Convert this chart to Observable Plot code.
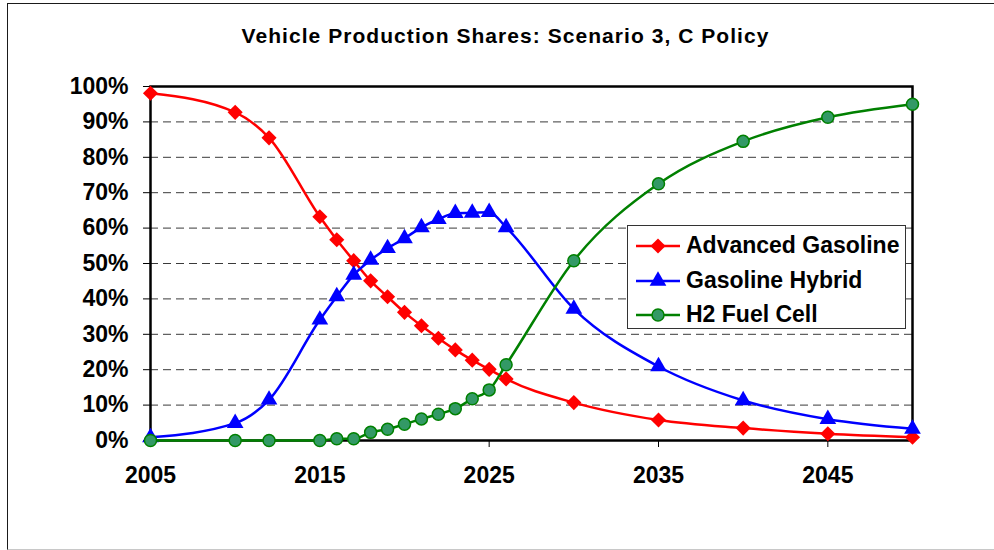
<!DOCTYPE html>
<html><head><meta charset="utf-8">
<script src="https://cdn.jsdelivr.net/npm/d3@7"></script>
<script src="https://cdn.jsdelivr.net/npm/@observablehq/plot@0.6"></script>
<style>
body{margin:0;background:#fff;font-family:"Liberation Sans",Arial,sans-serif;}
#wrap{position:relative;width:994px;height:550px;overflow:hidden;background:#fff;}
#border{position:absolute;left:7px;top:3px;width:1000px;height:545px;border:1px solid #1a1a1a;border-bottom-color:#c8c8c8;pointer-events:none;}
#legend{position:absolute;left:627px;top:225px;width:279px;height:104px;box-sizing:border-box;border:1px solid #333;background:#fff;}
.row{position:absolute;left:0;height:34px;width:100%;}
.row svg{position:absolute;left:0;top:0;}
.row span{position:absolute;left:58px;top:50%;transform:translateY(-52%);font:bold 23px "Liberation Sans",Arial,sans-serif;color:#000;white-space:nowrap;}
.chart-title text{letter-spacing:1.05px;}
</style>
</head><body>
<div id="wrap"><div id="chart"></div><div id="legend"></div><div id="border"></div></div>
<script>
const title = "Vehicle Production Shares: Scenario 3, C Policy";
const years = [2005, 2010, 2012, 2015, 2016, 2017, 2018, 2019, 2020, 2021, 2022, 2023, 2024, 2025, 2026, 2030, 2035, 2040, 2045, 2050];
const advancedGasoline = [98.1, 92.7, 85.5, 63.2, 56.7, 50.8, 45.1, 40.6, 36.2, 32.4, 28.9, 25.6, 22.7, 20.1, 17.4, 10.7, 5.8, 3.5, 1.9, 0.9];
const gasolineHybrid = [0.9, 4.9, 11.5, 34.1, 40.7, 46.8, 51.0, 54.3, 57.1, 60.2, 62.5, 64.2, 64.3, 64.5, 60.2, 37.2, 20.9, 11.3, 6.0, 3.3];
const h2FuelCell = [0, 0, 0, 0, 0.5, 0.5, 2.3, 3.2, 4.6, 6.1, 7.4, 9.0, 11.8, 14.3, 21.4, 50.8, 72.5, 84.5, 91.3, 95.0];
const seriesNames = ["Advanced Gasoline", "Gasoline Hybrid", "H2 Fuel Cell"];
const xTicks = [2005, 2015, 2025, 2035, 2045];
const yTicks = [0, 10, 20, 30, 40, 50, 60, 70, 80, 90, 100];
const gridTicks = [10, 20, 30, 40, 50, 60, 70, 80, 90];

const seriesStyle = [
  {line: "#ff0000", fill: "#ff0000", stroke: "none", symbol: "diamond2", r: 6.8},
  {line: "#0000ff", fill: "#0000ff", stroke: "none", symbol: "triangle", r: 6.2},
  {line: "#008000", fill: "#339966", stroke: "#008000", symbol: "circle", r: 6}
];
const seriesValues = [advancedGasoline, gasolineHybrid, h2FuelCell];
const tables = seriesValues.map((vals, i) => years.map((yr, j) => ({year: yr, value: vals[j], series: seriesNames[i]})));

const marks = [
  Plot.gridY(gridTicks, {stroke: "#3a3a3a", strokeOpacity: 1, strokeWidth: 1, strokeDasharray: "8,5"}),
  Plot.frame({stroke: "#000", strokeWidth: 2.5}),
  Plot.axisY(yTicks, {tickSize: 7, tickPadding: 15, tickFormat: d => d + "%", fontSize: 23, fontWeight: "bold", label: null, stroke: "#000"}),
  Plot.axisX(xTicks, {tickSize: 7, tickPadding: 19, tickFormat: d => String(d), fontSize: 23, fontWeight: "bold", label: null, stroke: "#000"}),
  Plot.text([title], {text: d => d, frameAnchor: "top", dx: -26, dy: -50, lineAnchor: "middle", fontSize: 21, fontWeight: "bold", fill: "#000", className: "chart-title"})
];
tables.forEach((t, i) => {
  const s = seriesStyle[i];
  marks.push(Plot.line(t, {x: "year", y: "value", stroke: s.line, strokeWidth: 2.5, curve: "monotone-x"}));
  marks.push(Plot.dot(t, {x: "year", y: "value", symbol: () => s.symbol, fill: s.fill, stroke: s.stroke, strokeWidth: 1.5, r: s.r}));
});

const chart = Plot.plot({
  width: 994, height: 550,
  marginLeft: 150, marginRight: 82, marginTop: 86, marginBottom: 110,
  style: {fontFamily: "Liberation Sans, Arial, sans-serif", color: "#000", background: "transparent", overflow: "visible"},
  x: {domain: [2005, 2050]},
  y: {domain: [0, 100]},
  symbol: {type: "identity"},
  marks
});
document.getElementById("chart").appendChild(chart);

// Legend
const legend = document.getElementById("legend");
const rowCenters = [20, 55, 89];
seriesNames.forEach((name, i) => {
  const s = seriesStyle[i];
  const row = document.createElement("div");
  row.className = "row";
  row.style.top = (rowCenters[i] - 17) + "px";
  const svg = d3.create("svg").attr("width", 56).attr("height", 34);
  svg.append("line").attr("x1", 8).attr("x2", 52).attr("y1", 17).attr("y2", 17).attr("stroke", s.line).attr("stroke-width", 2.5);
  const symType = s.symbol === "diamond2" ? d3.symbolDiamond2 : s.symbol === "triangle" ? d3.symbolTriangle : d3.symbolCircle;
  svg.append("path").attr("transform", "translate(30,17)")
    .attr("d", d3.symbol(symType, Math.PI * s.r * s.r)())
    .attr("fill", s.fill).attr("stroke", s.stroke).attr("stroke-width", 1.5);
  row.appendChild(svg.node());
  const sp = document.createElement("span");
  sp.textContent = name;
  row.appendChild(sp);
  legend.appendChild(row);
});
</script>
</body></html>
